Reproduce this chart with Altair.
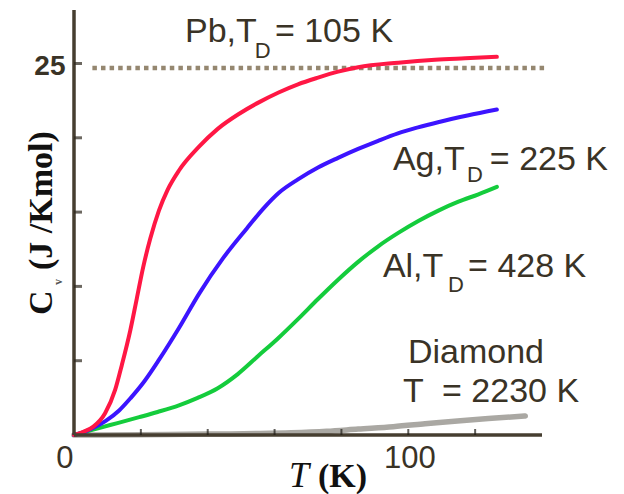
import altair as alt
import pandas as pd

# Molar heat capacity C (J/K mol) against temperature T (K) for four solids
pb_t = [0, 2.8, 5.8, 9.3, 12.3, 14.3, 16.8, 18.8, 20.7, 22.8, 25.4, 28, 31.4, 37.4, 43,
        49.3, 55, 61.2, 67, 73, 79, 85, 97, 108, 117, 126.5]
pb_c = [0, 0.22, 0.56, 1.46, 3.03, 4.7, 7.0, 9.2, 11.3, 13.2, 15.1, 16.5, 17.8, 19.4, 20.6,
        21.6, 22.35, 23.05, 23.6, 24.05, 24.45, 24.75, 25.05, 25.25, 25.35, 25.45]

ag_t = [0, 3, 6, 9.5, 13.5, 17, 21, 25.4, 31.4, 37.4, 44.6, 51.7, 56.5, 61.3, 67, 73, 79,
        85, 91, 96.9, 102.9, 108.9, 117.7, 126.5]
ag_c = [0, 0.2, 0.5, 0.95, 1.65, 2.5, 3.6, 5.05, 7.2, 9.5, 11.9, 13.9, 15.2, 16.3, 17.2, 18.0,
        18.65, 19.25, 19.8, 20.3, 20.7, 21.05, 21.5, 21.9]

al_t = [0, 4, 8, 13, 19.5, 25, 31.4, 37, 43, 49, 55, 61, 67, 73, 79, 85, 91, 97, 103, 109,
        115, 121, 126.5]
al_c = [0, 0.25, 0.5, 0.8, 1.2, 1.55, 2.0, 2.5, 3.15, 4.1, 5.3, 6.5, 7.8, 9.15, 10.45, 11.65,
        12.7, 13.6, 14.4, 15.1, 15.7, 16.2, 16.7]

di_t = [0, 20, 40, 55, 65, 75.6, 85, 95.5, 105, 115.6, 125, 135]
di_c = [0, 0.02, 0.06, 0.1, 0.15, 0.25, 0.4, 0.56, 0.75, 0.96, 1.12, 1.28]

# Classical (Dulong-Petit) limit
limit_c = 24.7

x_ticks = [20, 40, 60, 80, 100, 120]
y_ticks = [5, 10, 15, 20, 25]

X_MAX, Y_MAX = 140, 28.6
xs = alt.Scale(domain=[0, X_MAX], nice=False, zero=False)
ys = alt.Scale(domain=[0, Y_MAX], nice=False, zero=False)

INK = "#3a3326"
AXIS = "#463e30"


def curve(t, c, color, width):
    df = pd.DataFrame({"T": t, "C": c})
    return alt.Chart(df).mark_line(
        color=color, strokeWidth=width, interpolate="monotone", strokeCap="round"
    ).encode(
        x=alt.X("T:Q", scale=xs, axis=None),
        y=alt.Y("C:Q", scale=ys, axis=None),
    )


def texts(rows, **mark):
    df = pd.DataFrame(rows, columns=["text", "T", "C"])
    return alt.Chart(df).mark_text(**mark).encode(
        x=alt.X("T:Q", scale=xs, axis=None),
        y=alt.Y("C:Q", scale=ys, axis=None),
        text="text:N",
    )


# Axis lines
x_axis = alt.Chart(pd.DataFrame({"a": [0], "b": [X_MAX], "C": [0]})).mark_rule(
    strokeWidth=3.5, color=AXIS
).encode(x=alt.X("a:Q", scale=xs, axis=None), x2="b:Q", y=alt.Y("C:Q", scale=ys, axis=None))

y_axis = alt.Chart(pd.DataFrame({"T": [0], "a": [0], "b": [Y_MAX]})).mark_rule(
    strokeWidth=3.5, color=AXIS
).encode(y=alt.Y("a:Q", scale=ys, axis=None), y2="b:Q", x=alt.X("T:Q", scale=xs, axis=None))

# Inward tick marks
xtick = alt.Chart(pd.DataFrame({"v": x_ticks})).mark_tick(
    orient="vertical", size=6, thickness=2, color="#1e1b16", yOffset=-3
).encode(x=alt.X("v:Q", scale=xs, axis=None), y=alt.Y(datum=0, scale=ys, axis=None))

ytick = alt.Chart(pd.DataFrame({"v": y_ticks})).mark_tick(
    orient="horizontal", size=8, thickness=3, color="#2e281e", xOffset=4
).encode(y=alt.Y("v:Q", scale=ys, axis=None), x=alt.X(datum=0, scale=xs, axis=None))

# Dotted classical limit
limit = alt.Chart(pd.DataFrame({"a": [5.5], "b": [141], "C": [limit_c]})).mark_rule(
    strokeDash=[4.5, 4.1], strokeWidth=4.5, color="#958770"
).encode(
    x=alt.X("a:Q", scale=xs, axis=None),
    x2="b:Q",
    y=alt.Y("C:Q", scale=ys, axis=None),
)

# Curve labels (main text, subscript D, remainder)
label_main = texts(
    [["Pb,T", 33.2, 26.45], ["= 105 K", 60.1, 26.45],
     ["Ag,T", 95.4, 17.83], ["= 225 K", 124.4, 17.83],
     ["Al,T", 92.4, 10.63], ["= 428 K", 117.9, 10.63],
     ["Diamond", 99.9, 4.85], ["T", 98.4, 2.22], ["= 2230 K", 110.1, 2.22]],
    align="left", baseline="alphabetic", font="Liberation Sans", fontSize=34, color=INK,
)
label_sub = texts(
    [["D", 54.1, 25.37], ["D", 117.6, 17.03], ["D", 111.9, 9.62]],
    align="left", baseline="alphabetic", font="Liberation Sans", fontSize=22, color=INK,
)

# Tick labels
num_plain = texts(
    [["0", -2.7, -2.22], ["100", 100.5, -2.22]],
    align="center", baseline="alphabetic",
    font="Liberation Sans", fontSize=31, color=INK,
)
num_bold = texts(
    [["25", -7.2, 24.23]],
    align="center", baseline="alphabetic",
    font="Liberation Sans", fontSize=28, fontWeight="bold", color=INK,
)

# Axis titles
x_title_t = texts([["T", 64.3, -3.5]], align="left", baseline="alphabetic",
                  font="Liberation Serif", fontSize=36, fontStyle="italic", color="#111111")
x_title_k = texts([["(K)", 73.0, -3.5]], align="left", baseline="alphabetic",
                  font="Liberation Serif", fontSize=34, fontWeight="bold", color="#111111")
y_title = texts([["C", -6.58, 8.08], ["(J /Kmol)", -6.58, 11.1]], angle=270, align="left",
                baseline="alphabetic", font="Liberation Serif", fontSize=34, fontWeight="bold",
                color="#111111")
y_title_sub = texts([["v", -3.6, 10.1]], angle=270, align="left", baseline="alphabetic",
                    font="Liberation Serif", fontSize=12, fontWeight="bold", color="#555555")

chart = alt.layer(
    limit,
    curve(di_t, di_c, "#aaa8a3", 5.5),
    curve(al_t, al_c, "#14cc3c", 4),
    curve(ag_t, ag_c, "#3c14ff", 4),
    curve(pb_t, pb_c, "#ff1744", 4),
    x_axis,
    y_axis,
    xtick,
    ytick,
    label_main,
    label_sub,
    num_plain,
    num_bold,
    x_title_t,
    x_title_k,
    y_title,
    y_title_sub,
).properties(
    width=468,
    height=425,
    padding={"left": 74, "top": 10, "right": 82, "bottom": 59},
    autosize=alt.AutoSizeParams(type="none"),
    background="white",
).configure_view(stroke=None)

chart.save("out.html", embed_options={"renderer": "svg", "actions": False})
